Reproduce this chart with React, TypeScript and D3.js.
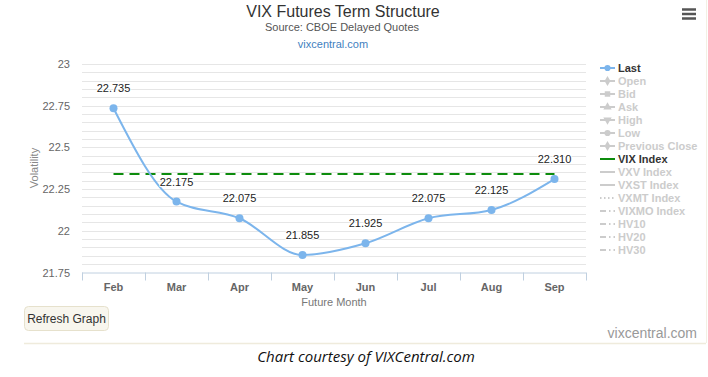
import React from "react";
import * as d3 from "d3";

const months = ["Feb", "Mar", "Apr", "May", "Jun", "Jul", "Aug", "Sep"];
const lastValues = [22.735, 22.175, 22.075, 21.855, 21.925, 22.075, 22.125, 22.31];
const vixIndex = 22.34;
const yTicks = [21.75, 22, 22.25, 22.5, 22.75, 23];
const legendItems = [
  "Last", "Open", "Bid", "Ask", "High", "Low", "Previous Close",
  "VIX Index", "VXV Index", "VXST Index", "VXMT Index", "VIXMO Index", "HV10", "HV20", "HV30",
];
const legendSymbols = [
  "circle", "diamond", "square", "triangle", "triangle-down", "circle", "diamond",
  "solid", "solid", "solid", "dot", "dashdot", "dashdot", "dashdot", "dashdot",
];

const FONT = "'Liberation Sans', Arial, sans-serif";

export default function App() {
  const W = 708, H = 377;
  const left = 82, right = 586, top = 64, bottom = 272.5;
  const x = d3.scaleBand<string>().domain(months).range([left, right]);
  const y = d3.scaleLinear().domain([21.75, 23]).range([bottom, top]);
  const cx = (m: string) => (x(m) as number) + x.bandwidth() / 2;
  const gridVals = d3.range(21.8, 23.0001, 0.05);
  const line = d3
    .line<number>()
    .x((_, i) => cx(months[i]))
    .y((d) => y(d))
    .curve(d3.curveMonotoneX);

  const legX = 600, legY0 = 68, legStep = 13.0;
  const gray = "#cccccc";
  const symbolPath = (s: string) => {
    const map: Record<string, d3.SymbolType> = {
      circle: d3.symbolCircle,
      diamond: d3.symbolDiamond,
      square: d3.symbolSquare,
      triangle: d3.symbolTriangle,
    };
    if (s === "triangle-down") return d3.symbol(d3.symbolTriangle, 30)();
    return d3.symbol(map[s] || d3.symbolCircle, 30)();
  };

  return (
    <svg width={W} height={H} style={{ position: "absolute", left: 0, top: 0, background: "#fff" }} fontFamily={FONT}>
      <rect x={0} y={0} width={W} height={H} fill="#fff" />
      {/* container border */}
      <line x1={24} x2={706} y1={343.5} y2={343.5} stroke="#efebdc" strokeWidth={1.5} />
      <line x1={706.5} x2={706.5} y1={0} y2={343} stroke="#f3f0e4" strokeWidth={1} />

      {/* title */}
      <text x={343} y={17} textAnchor="middle" fontSize={16} fill="#333">VIX Futures Term Structure</text>
      <text x={342} y={31} textAnchor="middle" fontSize={11} fill="#555">Source: CBOE Delayed Quotes</text>
      <text x={333} y={48} textAnchor="middle" fontSize={11} fill="#3f7fc0">vixcentral.com</text>

      {/* hamburger */}
      {[9.5, 14, 18.5].map((yy) => (
        <line key={yy} x1={682} x2={696} y1={yy} y2={yy} stroke="#555" strokeWidth={2.5} />
      ))}

      {/* grid */}
      {gridVals.map((v) => (
        <line key={v.toFixed(2)} x1={left} x2={right} y1={Math.round(y(v)) + 0.5} y2={Math.round(y(v)) + 0.5} stroke="#e6e6e6" strokeWidth={1} />
      ))}
      {/* x axis */}
      <line x1={left} x2={right} y1={bottom + 0.5} y2={bottom + 0.5} stroke="#c0d0e0" strokeWidth={1} />
      {months.map((m) => (
        <line key={m} x1={Math.round(x(m) as number) + 0.5} x2={Math.round(x(m) as number) + 0.5} y1={bottom} y2={bottom + 8} stroke="#c0d0e0" />
      ))}
      <line x1={right + 0.5} x2={right + 0.5} y1={bottom} y2={bottom + 8} stroke="#c0d0e0" />
      {months.map((m) => (
        <text key={m} x={cx(m)} y={291} textAnchor="middle" fontSize={11} fontWeight="bold" fill="#666">{m}</text>
      ))}
      <text x={334} y={306} textAnchor="middle" fontSize={11} fill="#777">Future Month</text>

      {/* y axis */}
      {yTicks.map((t) => (
        <text key={t} x={70} y={y(t) + 4} textAnchor="end" fontSize={11} fill="#666">{t}</text>
      ))}
      <text transform={`translate(38,${168}) rotate(-90)`} textAnchor="middle" fontSize={11} fill="#888">Volatility</text>

      {/* VIX index line */}
      <line x1={cx(months[0])} x2={cx(months[months.length - 1])} y1={y(vixIndex)} y2={y(vixIndex)} stroke="#0d8c0d" strokeWidth={2} strokeDasharray="10,6" />

      {/* Last series */}
      <path d={line(lastValues) || ""} fill="none" stroke="#7cb5ec" strokeWidth={2} />
      {lastValues.map((v, i) => (
        <circle key={i} cx={cx(months[i])} cy={y(v)} r={4} fill="#7cb5ec" />
      ))}
      {lastValues.map((v, i) => (
        <text key={"l" + i} x={cx(months[i])} y={y(v) - 16} textAnchor="middle" fontSize={11} fill="#222"
          stroke="#fff" strokeWidth={2} paintOrder="stroke" strokeLinejoin="round">{v.toFixed(3)}</text>
      ))}

      {/* legend */}
      {legendItems.map((name, i) => {
        const yy = legY0 + i * legStep;
        const sym = legendSymbols[i];
        const active = i === 0 || i === 7;
        const color = i === 0 ? "#7cb5ec" : i === 7 ? "#0d8c0d" : gray;
        let dash: string | undefined;
        if (sym === "dot") dash = "1.5,2.5";
        if (sym === "dashdot") dash = "6,3,1.5,3";
        const isMarker = !["solid", "dot", "dashdot"].includes(sym);
        return (
          <g key={name}>
            <line x1={legX} x2={legX + 15} y1={yy} y2={yy} stroke={color} strokeWidth={2} strokeDasharray={dash} />
            {isMarker && (
              <path d={symbolPath(sym) || ""} transform={`translate(${legX + 7.5},${yy})${sym === "triangle-down" ? " rotate(180)" : ""}`} fill={color} />
            )}
            <text x={legX + 18} y={yy + 4} fontSize={11} fontWeight="bold" fill={active ? "#333" : gray}>{name}</text>
          </g>
        );
      })}

      {/* refresh button */}
      <rect x={24.5} y={306.5} width={84} height={24} rx={4} fill="#f8f6ee" stroke="#e6e1cc" />
      <text x={66.5} y={322.5} textAnchor="middle" fontSize={12} fill="#333">Refresh Graph</text>

      <text x={697} y={338} textAnchor="end" fontSize={14} fill="#999">vixcentral.com</text>

      <text x={366} y={362} textAnchor="middle" fontSize={15} fontStyle="italic" fontFamily="'Open Sans', sans-serif" fill="#111">Chart courtesy of VIXCentral.com</text>
    </svg>
  );
}
